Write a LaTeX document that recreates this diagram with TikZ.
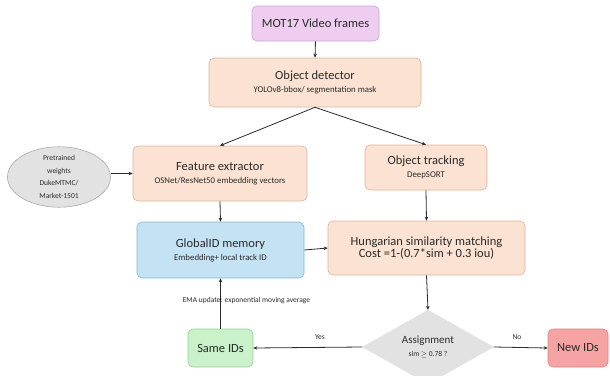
\documentclass[tikz,border=0pt]{standalone}
\usepackage{fontspec}
\setmainfont{Carlito}
\usetikzlibrary{shapes.geometric,arrows.meta}

\definecolor{inkc}{HTML}{2A2A2A}
\definecolor{violetfill}{HTML}{EFCDF1}
\definecolor{violetline}{HTML}{C9A3D2}
\definecolor{peachfill}{HTML}{FBE2D2}
\definecolor{peachline}{HTML}{DDB49C}
\definecolor{bluefill}{HTML}{C3E2F4}
\definecolor{blueline}{HTML}{86B5D3}
\definecolor{greyfill}{HTML}{E2E2E2}
\definecolor{greyline}{HTML}{A9A9A9}
\definecolor{greenfill}{HTML}{C9F1CA}
\definecolor{greenline}{HTML}{97CF99}
\definecolor{redfill}{HTML}{F6A3A3}
\definecolor{redline}{HTML}{DD8484}

\newcommand{\ttlf}{\fontsize{12.5}{14}\selectfont}
\newcommand{\subf}{\fontsize{8.8}{10}\selectfont}
\newcommand{\smallf}{\fontsize{7.5}{8}\selectfont}

\tikzset{
  box/.style={draw, rounded corners=5pt, line width=0.6pt, inner sep=0pt,
              align=center, text=inkc},
  peach/.style={box, fill=peachfill, draw=peachline},
  arr/.style={-{Stealth[length=4pt,width=3.5pt]}, line width=0.8pt, draw=inkc},
  lbl/.style={text=inkc, inner sep=0pt}
}

\begin{document}
\begin{tikzpicture}[x=1pt,y=-1pt]
\useasboundingbox (0,0) rectangle (610,375);
\clip (0,0) rectangle (610,375);

% processing blocks
\node[box, fill=violetfill, draw=violetline, minimum width=127pt, minimum height=35pt]
  (src) at (315.5,23.5) {\ttlf MOT17 Video frames};
\node[peach, minimum width=212pt, minimum height=49pt]
  (det) at (315,82.5) {\ttlf Object detector\\[1pt]\subf YOLOv8-bbox/ segmentation mask};
\node[peach, minimum width=174pt, minimum height=55pt]
  (feat) at (220,173.5) {\ttlf Feature extractor\\[1pt]\subf OSNet/ResNet50 embedding vectors};
\node[peach, minimum width=122pt, minimum height=45pt]
  (track) at (426,167.5) {\ttlf Object tracking\\[1pt]\subf DeepSORT};
\node[box, fill=bluefill, draw=blueline, minimum width=167pt, minimum height=56pt]
  (glob) at (220.5,250) {\ttlf GlobalID memory\\[1pt]\subf Embedding+ local track ID};
\node[peach, minimum width=197pt, minimum height=54pt]
  (hung) at (426.5,248) {\ttlf Hungarian similarity matching\\[0pt]\ttlf Cost =1-(0.7*sim + 0.3 iou)};

% pretrained weights
\node[ellipse, draw=greyline, fill=greyfill, line width=0.6pt, minimum width=103pt,
      minimum height=53pt, inner sep=0pt, align=center, text=inkc]
  (ell) at (59,177) {\smallf Pretrained\\[0.5pt]\smallf weights\\[0.5pt]\smallf DukeMTMC/\\[0.5pt]\smallf Market-1501};

% decision and outcomes
\node[diamond, fill=greyfill, draw=greyfill, minimum width=131pt, minimum height=68pt,
      inner sep=0pt, align=center, text=inkc]
  (dia) at (428,347) {\fontsize{11}{12}\selectfont Assignment\\[1pt]\smallf sim $\geq$ 0.78 ?};
\node[box, fill=greenfill, draw=greenline, minimum width=65pt, minimum height=38pt]
  (same) at (220.5,348) {\ttlf Same IDs};
\node[box, fill=redfill, draw=redline, minimum width=60pt, minimum height=38pt]
  (new) at (578,348) {\ttlf New IDs};

% connectors
\draw[arr] (src.south) -- (det.north);
\draw[arr] (det.south) -- (feat.north);
\draw[arr] (det.south) -- (track.north);
\draw[arr] (ell.east |- feat.west) -- (feat.west);
\draw[arr] (feat.south) -- (glob.north);
\draw[arr] (glob.east) -- (hung.west);
\draw[arr] (track.south) -- (hung.north);
\draw[arr] (hung.south) -- (dia.north);
\draw[arr] (dia.west) -- (same.east);
\draw[arr] (dia.east) -- (new.west);
\draw[arr] (same.north) -- (glob.south);

% connector labels
\node[lbl] (yes) at (320,337) {\smallf Yes};
\node[lbl] (no) at (517,337) {\smallf No};
\node[lbl] (ema) at (246.5,301) {\smallf EMA update: exponential moving average};
\end{tikzpicture}
\end{document}
